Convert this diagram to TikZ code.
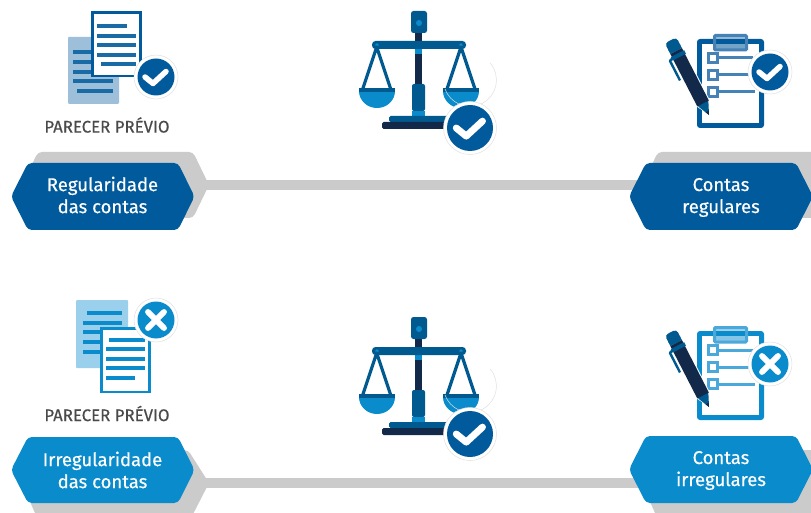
\documentclass[tikz,border=0pt]{standalone}
\usepackage{fontspec}
\setmainfont[FakeBold=0.35]{Fira Sans}
\definecolor{navy}{HTML}{005A9C}
\definecolor{sky}{HTML}{0A8BCB}
\definecolor{ink}{HTML}{12294A}
\definecolor{steel}{HTML}{005A8F}
\definecolor{barg}{HTML}{CBCBCB}
\definecolor{paleA}{HTML}{9DBFDA}
\definecolor{paleB}{HTML}{9AD0EC}
\definecolor{midA}{HTML}{4682B6}
\definecolor{midB}{HTML}{4BA8DA}
\definecolor{txtg}{HTML}{4A4A4A}
\tikzset{
  hexfill/.style={rounded corners=4pt,line join=round},
  hexlabel/.style={text=white,align=center,font=\fontsize{18.5}{22}\selectfont,inner sep=0pt},
  captionlabel/.style={text=txtg,font=\fontsize{16.8}{18}\selectfont,inner sep=0pt},
  linkbar/.style={draw=barg,line width=10pt},
  tick/.style={draw=white,line width=5pt,line cap=round,line join=round},
}
\newcommand{\badge}[4]{% x,y,radius,colour
  \fill[white] (#1,#2) circle (#3+3.5);
  \draw[black!12,line width=.5pt] (#1,#2) circle (#3+3.5);
  \fill[#4] (#1,#2) circle (#3);
}
\newcommand{\markcheck}[3]{% x,y,scale
  \draw[tick,line width=#3*5.5pt,shift={(#1,#2)},scale=#3] (-11,0) -- (-3,6.5) -- (10,-5.5);
}
\newcommand{\markcross}[3]{%
  \draw[tick,line width=#3*6pt,shift={(#1,#2)},scale=#3] (-8.5,-8.5) -- (8.5,8.5) (-8.5,8.5) -- (8.5,-8.5);
}
\newcommand{\balance}[1]{%
  \begin{scope}[shift={(0,#1)}]
    \fill[ink] (415,33) rectangle (422,84);
    \fill[sky] (415,49) rectangle (422,54);
    \fill[steel,rounded corners=2.5pt] (411,11) rectangle (427,33);
    \fill[sky] (419,23) circle (3);
    \fill[steel,rounded corners=3.5pt] (372,41) rectangle (466,49);
    \fill[sky] (377,45) circle (1.8) (461,45) circle (1.8);
    \draw[steel,line width=3.2pt,line join=round] (362.7,89) -- (376.7,47) -- (390.7,89);
    \draw[steel,line width=3.2pt,line join=round] (447,89) -- (461,47) -- (475,89);
    \fill[sky] (359,91) arc[start angle=180,end angle=0,x radius=18,y radius=17] -- cycle;
    \fill[steel] (359,88) rectangle (395,92);
    \fill[sky] (443,91) arc[start angle=180,end angle=0,x radius=18,y radius=17] -- cycle;
    \fill[steel] (443,88) rectangle (479,92);
    \fill[steel,rounded corners=2pt] (412,111) -- (412,84) -- (425,84) -- (425,111) -- cycle;
    \fill[sky] (412,111) rectangle (425,116);
    \fill[steel,rounded corners=1.5pt] (389,122) -- (389,116) -- (452,116) -- (452,122) -- cycle;
    \fill[ink,rounded corners=1.5pt] (382,129) -- (382,122) -- (452,122) -- (452,129) -- cycle;
    \draw[black!12,line width=.5pt] (445,89) arc[start angle=160,end angle=-40,radius=26.5];
    \badge{470}{128}{23}{navy}
    \markcheck{470}{128}{1.25}
  \end{scope}
}
\newcommand{\clipboard}[4]{% dy, main colour, mid colour, clip fill
  \begin{scope}[shift={(0,#1)}]
    \fill[#2,rounded corners=3pt] (697,39) rectangle (764,128);
    \fill[white] (702,44) rectangle (759,123);
    \fill[#4] (714.5,35.5) rectangle (746.5,50);
    \fill[#2] (714.5,39) rectangle (746.5,44);
    \fill[white,opacity=.25] (714.5,35.5) rectangle (746.5,39);
    \draw[#3,line width=3pt,rounded corners=1pt] (714.5,35.5) rectangle (746.5,50);
    \foreach \yy/\xe in {58/753,75/753,92/755}{
      \draw[#3,fill=white,line width=3pt] (708.5,\yy-4.5) rectangle (717,\yy+4.5);
      \draw[#3,line width=3pt] (719,\yy) -- (\xe,\yy);
    }
    \begin{scope}[shift={(709,115)},rotate=117.2]
      \fill[white] (0,0) -- (14,-7.5) -- (90,-7.5) -- (90,7.5) -- (14,7.5) -- cycle;
      \fill[steel] (0,0) -- (12,-5.5) -- (14,-5.5) -- (14,5.5) -- (12,5.5) -- cycle;
      \fill[ink] (0,0) -- (4,-1.8) -- (4,1.8) -- cycle;
      \fill[ink] (13,-6.5) rectangle (72,6.5);
      \fill[steel] (65,-7.5) rectangle (69,7.5);
      \fill[steel,rounded corners=3.5pt] (72,-6.5) rectangle (84,6.5);
      \fill[steel] (72,-6.5) rectangle (76,6.5);
      \draw[steel,line width=2.4pt,line join=round] (67,-6.5) -- (66,-10) -- (44,-10);
    \end{scope}
  \end{scope}
}
\begin{document}
\begin{tikzpicture}[x=1pt,y=-1pt]
  \clip (0,0) rectangle (811,513);
  \fill[white] (0,0) rectangle (811,513);

  % --- connectors and grey backplates
  \coordinate (linkA) at (200,185);
  \coordinate (linkB) at (650,185);
  \coordinate (linkC) at (200,483);
  \coordinate (linkD) at (650,483);
  \draw[linkbar] (linkA) -- (linkB);
  \draw[linkbar] (linkC) -- (linkD);
  \fill[barg,hexfill] (38,152) -- (193,152) -- (209,185) -- (193,218) -- (38,218) -- (22,185) -- cycle;
  \fill[barg,hexfill] (658,152) -- (840,152) -- (840,218) -- (658,218) -- (642,185) -- cycle;
  \fill[barg,hexfill] (38,450) -- (188,450) -- (209,483) -- (190,520) -- (38,520) -- (22,483) -- cycle;
  \fill[barg,hexfill] (658,450) -- (840,450) -- (840,520) -- (658,520) -- (642,483) -- cycle;

  % --- blue hexagons
  \fill[navy,hexfill] (28,163) -- (178,163) -- (194.5,196.5) -- (178,230) -- (28,230) -- (11,196.5) -- cycle;
  \fill[navy,hexfill] (646,163) -- (796,163) -- (813,196.5) -- (796,230) -- (646,230) -- (629,196.5) -- cycle;
  \fill[sky,hexfill] (28,437) -- (178,437) -- (194.5,470) -- (178,503) -- (28,503) -- (11,470) -- cycle;
  \fill[sky,hexfill] (646,436) -- (796,436) -- (813,469.5) -- (796,503) -- (646,503) -- (629,469.5) -- cycle;
  \node[hexlabel] (regul) at (102.5,195) {Regularidade\\das contas};
  \node[hexlabel] (cregul) at (721,197.5) {Contas\\regulares};
  \node[hexlabel] (irreg) at (102.5,470) {Irregularidade\\das contas};
  \node[hexlabel] (cirreg) at (721,470.5) {Contas\\irregulares};
  \node[captionlabel] (parA) at (107,125) {PARECER PRÉVIO};
  \node[captionlabel] (parB) at (107,413.5) {PARECER PRÉVIO};

  % --- opinion, regular
  \fill[paleA,rounded corners=1pt] (68,37) rectangle (119,104);
  \foreach \yy in {52,62,72}{\fill[navy!90!white] (73,\yy-2) rectangle (92,\yy+2);}
  \fill[navy!90!white] (73,79.5) rectangle (113,83.5);
  \fill[navy!90!white] (77,89) rectangle (113,93);
  \draw[navy,fill=white,line width=2.5pt] (92.5,12.5) rectangle (140.5,76);
  \fill[navy!90!white] (97,24) rectangle (127,28);
  \foreach \yy in {36,45,55}{\fill[navy!90!white] (97,\yy-2) rectangle (136,\yy+2);}
  \fill[navy!90!white] (101,62.5) rectangle (136,66.5);
  \badge{156}{77}{18.5}{navy}
  \markcheck{156}{77}{1}

  % --- opinion, irregular
  \fill[paleB,rounded corners=1pt] (76,300) rectangle (128,368);
  \fill[sky] (87,311) rectangle (122,315);
  \fill[sky] (83,321) rectangle (122,325);
  \foreach \yy in {332,342,352}{\fill[sky] (83,\yy-2) rectangle (103,\yy+2);}
  \draw[sky,fill=white,line width=2.5pt] (101.5,328.5) rectangle (149.5,392);
  \fill[sky] (109,338) rectangle (145,342);
  \foreach \yy in {349,359,368}{\fill[sky] (106,\yy-2) rectangle (145,\yy+2);}
  \fill[sky] (106,376) rectangle (135,380);
  \badge{156}{320}{18.5}{sky}
  \markcross{156}{320}{.95}

  % --- scales
  \balance{0}
  \balance{306}

  % --- boards
  \clipboard{0}{navy}{midA}{navy!55!white}
  \badge{770}{72}{18.5}{navy}
  \markcheck{770}{72}{1}
  \clipboard{292}{sky}{midB}{sky!50!white}
  \badge{770}{364}{18.5}{sky}
  \markcross{770}{364}{.95}
\end{tikzpicture}
\end{document}
